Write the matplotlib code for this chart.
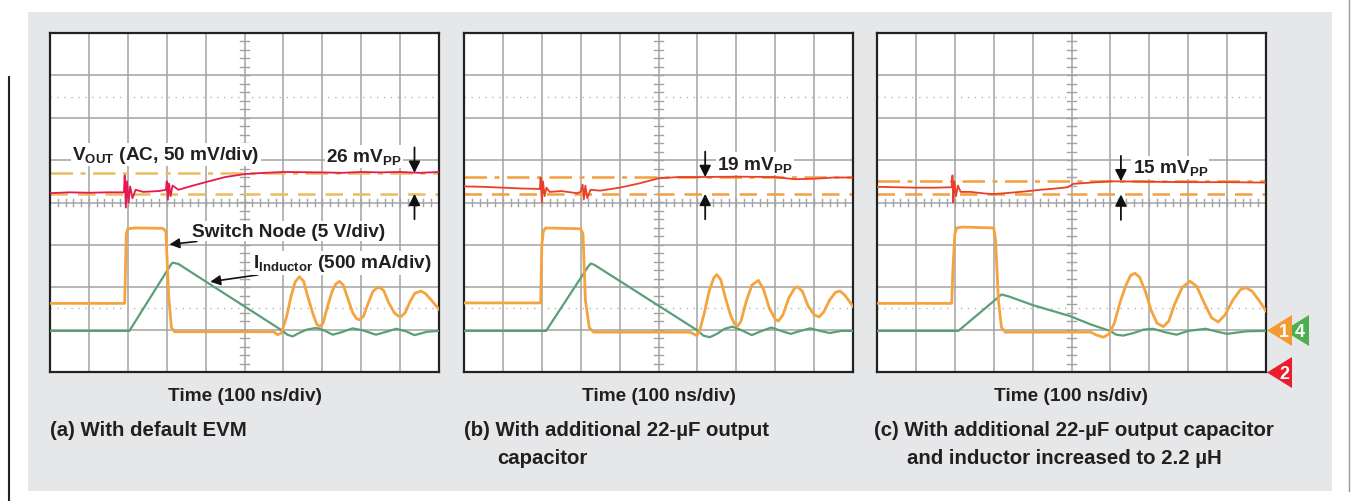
import matplotlib
matplotlib.use("Agg")
import matplotlib.pyplot as plt
import numpy as np
from matplotlib.patches import Rectangle, Polygon

plt.rcParams['font.family'] = ['Liberation Sans', 'DejaVu Sans']
plt.rcParams['mathtext.fontset'] = 'custom'
plt.rcParams['mathtext.bf'] = 'Liberation Sans:bold'
plt.rcParams['mathtext.rm'] = 'Liberation Sans'

# ---- trace data (x in divisions 0..10, y in divisions -4..4) ----
# panel (a)
vout_a_x = [0, 0.5, 1.0, 1.5, 1.9, 1.92, 1.95, 1.98, 2.02, 2.06, 2.12, 2.2, 2.4, 2.8, 2.98, 3.0, 3.03,
            3.06, 3.1, 3.15, 3.3, 3.6, 4.0, 4.5, 5.0, 5.5, 6.0, 7.0, 7.5, 8.0, 8.5, 9.0, 9.5, 10]
vout_a_y = [0.22, 0.24, 0.23, 0.24, 0.24, 0.64, -0.12, 0.5, 0.0, 0.38, 0.1, 0.3, 0.25, 0.27, 0.3, 0.5, 0.07,
            0.45, 0.15, 0.4, 0.3, 0.38, 0.48, 0.6, 0.67, 0.7, 0.72, 0.71, 0.70, 0.72, 0.71, 0.72, 0.70, 0.72]
sw_a_x = [0, 1.92, 1.96, 2.0, 2.2, 2.9, 2.98, 3.05, 3.12, 3.2, 5.75, 5.85, 5.95, 6.08, 6.2, 6.3, 6.41, 6.52,
          6.62, 6.75, 6.85, 6.93, 7.02, 7.12, 7.25, 7.35, 7.44, 7.54, 7.65, 7.78, 7.88, 7.96, 8.06, 8.17, 8.3,
          8.4, 8.47, 8.58, 8.7, 8.85, 8.95, 9.03, 9.13, 9.25, 9.38, 9.54, 9.65, 9.8, 10]
sw_a_y = [-2.38, -2.38, -0.75, -0.62, -0.60, -0.61, -0.68, -2.2, -2.95, -3.05, -3.05, -3.12, -3.08, -2.7,
          -2.2, -1.88, -1.75, -1.86, -2.2, -2.6, -2.86, -2.93, -2.85, -2.5, -2.1, -1.92, -1.86, -1.95, -2.25,
          -2.6, -2.74, -2.77, -2.68, -2.4, -2.1, -2.02, -2.0, -2.08, -2.35, -2.6, -2.68, -2.69, -2.6, -2.35,
          -2.14, -2.09, -2.15, -2.3, -2.52]
il_a_x = [0, 2.04, 3.12, 3.16, 3.3, 5.98, 6.1, 6.24, 6.4, 6.6, 6.84, 7.05, 7.27, 7.5, 7.78, 8.05, 8.38,
          8.65, 8.9, 9.15, 9.37, 9.7, 10]
il_a_y = [-3.03, -3.03, -1.45, -1.42, -1.45, -3.03, -3.12, -3.16, -3.08, -3.0, -2.96, -3.02, -3.12, -3.06,
          -2.97, -3.02, -3.12, -3.05, -2.98, -3.04, -3.13, -3.05, -3.03]

# panel (b)
vout_b_x = [0, 0.5, 1.0, 1.5, 1.95, 1.97, 2.0, 2.03, 2.07, 2.12, 2.2, 2.5, 2.9, 3.0, 3.05, 3.08, 3.12,
            3.17, 3.25, 3.5, 4.0, 4.5, 5.0, 5.5, 6.0, 7.0, 8.0, 8.5, 9.0, 9.5, 10]
vout_b_y = [0.38, 0.37, 0.35, 0.33, 0.32, 0.59, 0.0, 0.5, 0.15, 0.35, 0.25, 0.27, 0.22, 0.25, 0.42, 0.07,
            0.4, 0.1, 0.3, 0.28, 0.35, 0.45, 0.57, 0.6, 0.6, 0.61, 0.6, 0.55, 0.56, 0.59, 0.59]
sw_b_x = [0, 1.97, 2.0, 2.04, 2.1, 3.0, 3.06, 3.12, 3.22, 3.33, 5.8, 5.9, 5.98, 6.05, 6.18, 6.3, 6.42,
          6.5, 6.6, 6.72, 6.85, 6.95, 7.03, 7.12, 7.25, 7.4, 7.57, 7.7, 7.85, 8.0, 8.08, 8.2, 8.35, 8.5,
          8.58, 8.7, 8.85, 9.0, 9.13, 9.25, 9.4, 9.55, 9.67, 9.8, 10]
sw_b_y = [-2.37, -2.37, -1.0, -0.68, -0.6, -0.62, -0.75, -2.3, -2.95, -3.06, -3.06, -3.1, -3.14, -3.05,
          -2.6, -2.1, -1.78, -1.70, -1.82, -2.25, -2.65, -2.86, -2.92, -2.8, -2.35, -1.95, -1.84, -2.05,
          -2.5, -2.75, -2.80, -2.65, -2.25, -2.02, -1.99, -2.1, -2.45, -2.65, -2.70, -2.58, -2.3, -2.12,
          -2.09, -2.2, -2.45]
il_b_x = [0, 2.11, 3.2, 3.26, 3.35, 6.02, 6.15, 6.32, 6.5, 6.7, 6.9, 7.1, 7.4, 7.6, 7.9, 8.15, 8.4,
          8.65, 8.9, 9.15, 9.4, 9.7, 10]
il_b_y = [-3.03, -3.03, -1.5, -1.44, -1.47, -3.03, -3.14, -3.18, -3.1, -2.98, -2.93, -3.0, -3.13, -3.05,
          -2.95, -3.03, -3.1, -3.03, -2.97, -3.03, -3.08, -3.03, -3.03]

# panel (c)
vout_c_x = [0, 0.5, 1.0, 1.5, 1.92, 1.94, 1.96, 1.99, 2.03, 2.08, 2.15, 2.4, 2.8, 3.0, 3.3, 3.8, 4.2,
            4.6, 4.9, 5.05, 5.5, 6.0, 7.0, 8.0, 9.0, 10]
vout_c_y = [0.37, 0.36, 0.35, 0.35, 0.36, 0.64, 0.0, 0.5, 0.15, 0.4, 0.25, 0.25, 0.21, 0.2, 0.22, 0.26,
            0.3, 0.33, 0.36, 0.44, 0.47, 0.5, 0.49, 0.48, 0.48, 0.47]
sw_c_x = [0, 1.92, 1.95, 2.0, 2.05, 2.2, 3.0, 3.05, 3.12, 3.2, 3.3, 5.5, 5.62, 5.82, 5.97, 6.1, 6.25,
          6.4, 6.52, 6.63, 6.75, 6.9, 7.05, 7.2, 7.36, 7.5, 7.65, 7.85, 8.05, 8.22, 8.4, 8.6, 8.77, 8.95,
          9.15, 9.35, 9.49, 9.65, 9.85, 10]
sw_c_y = [-2.38, -2.38, -1.6, -0.75, -0.6, -0.58, -0.6, -0.9, -2.3, -2.95, -3.06, -3.06, -3.12, -3.18,
          -3.1, -2.85, -2.35, -1.95, -1.72, -1.67, -1.76, -2.1, -2.55, -2.85, -2.93, -2.8, -2.4, -2.0,
          -1.86, -1.98, -2.35, -2.72, -2.82, -2.65, -2.3, -2.05, -2.01, -2.1, -2.35, -2.56]
il_c_x = [0, 2.09, 3.1, 3.2, 3.4, 4.0, 4.96, 5.5, 5.99, 6.15, 6.33, 6.6, 6.85, 7.1, 7.4, 7.7, 8.0,
          8.45, 8.75, 9.0, 9.5, 10]
il_c_y = [-3.03, -3.03, -2.25, -2.17, -2.22, -2.42, -2.68, -2.88, -3.03, -3.12, -3.14, -3.08, -3.0,
          -2.98, -3.06, -3.12, -3.03, -2.98, -3.05, -3.1, -3.04, -3.03]

# peak-to-peak cursor levels, labels
pp_top = [0.70, 0.60, 0.50]
pp_bot = [0.205, 0.205, 0.19]
pp_text = ['26', '19', '15']
pp_arrow_x = [9.37, 6.2, 6.27]
pp_text_xy = [(7.1, 1.09), (6.5, 0.92), (6.57, 0.83)]

captions = [["(a) With default EVM"],
            ["(b) With additional 22-\u00b5F output", "capacitor"],
            ["(c) With additional 22-\u00b5F output capacitor", "and inductor increased to 2.2 \u00b5H"]]

W, H = 1351, 502
fig = plt.figure(figsize=(W / 100, H / 100), dpi=100)

# background layer in pixel coordinates
bg = fig.add_axes([0, 0, 1, 1])
bg.set_xlim(0, W)
bg.set_ylim(H, 0)
bg.axis('off')
bg.add_patch(Rectangle((28, 13), 1304, 479, facecolor='#e6e7e8', edgecolor='none'))
bg.plot([8.5, 8.5], [78, 502], color='#222222', lw=1.5)
bg.plot([1349, 1349], [0, 492], color='#9a9a9a', lw=1.0)

panel_left = [50, 464, 877]
top, bottom, pw = 34, 373, 389

vouts = [(vout_a_x, vout_a_y), (vout_b_x, vout_b_y), (vout_c_x, vout_c_y)]
sws = [(sw_a_x, sw_a_y), (sw_b_x, sw_b_y), (sw_c_x, sw_c_y)]
ils = [(il_a_x, il_a_y), (il_b_x, il_b_y), (il_c_x, il_c_y)]
red_col = ['#e6194f', '#e8402a', '#e8402a']
cur_col = ['#e8bd60', '#f3a03e', '#f3a03e']

orange = '#f4a43e'
green = '#5a9f77'
gridc = '#a3a3a3'
fs = 13.7
arrow_kw = dict(arrowstyle='-|>', color='#111111', lw=1.3, mutation_scale=17, shrinkA=0, shrinkB=0)

for i, left in enumerate(panel_left):
    ax = fig.add_axes([left / W, 1 - bottom / H, pw / W, (bottom - top) / H])
    ax.set_xlim(0, 10)
    ax.set_ylim(-4, 4)
    ax.set_xticks([])
    ax.set_yticks([])
    for s in ax.spines.values():
        s.set_color('#222222')
        s.set_linewidth(1.6)
    # graticule
    for gx in range(1, 10):
        ax.axvline(gx, color=gridc, lw=1.1, zorder=1)
    for gy in range(-3, 4):
        ax.axhline(gy, color=gridc, lw=1.1, zorder=1)
    for gy in (-2.5, 2.5):
        ax.axhline(gy, color='#b5b5b5', lw=1.0, ls=(0, (1, 4)), zorder=1)
    for t in np.arange(0.2, 10, 0.2):
        ax.plot([t, t], [-0.09, 0.09], color=gridc, lw=1.0, zorder=1)
    for t in np.arange(-3.8, 4, 0.2):
        ax.plot([4.88, 5.12], [t, t], color=gridc, lw=1.0, zorder=1)

    # cursors
    ax.axhline(pp_top[i], color=cur_col[i], lw=1.8, ls=(0, (9, 3, 2, 3)), zorder=2)
    ax.axhline(pp_bot[i], color=cur_col[i], lw=1.8, ls=(0, (7, 4)), zorder=2)

    # traces
    ax.plot(*ils[i], color=green, lw=1.6, zorder=3)
    ax.plot(*sws[i], color=orange, lw=2.0, zorder=4)
    ax.plot(*vouts[i], color=red_col[i], lw=1.3, zorder=5)

    # peak-to-peak arrows and label
    ax.annotate('', xy=(pp_arrow_x[i], pp_top[i]), xytext=(pp_arrow_x[i], pp_top[i] + 0.6),
                arrowprops=arrow_kw, zorder=6)
    ax.annotate('', xy=(pp_arrow_x[i], pp_bot[i]), xytext=(pp_arrow_x[i], pp_bot[i] - 0.6),
                arrowprops=arrow_kw, zorder=6)
    tx, ty = pp_text_xy[i]
    ax.text(tx, ty, pp_text[i] + r' mV$\mathbf{_{PP}}$', fontsize=fs, fontweight='bold',
            color='#231f20', ha='left', va='center', zorder=7,
            bbox=dict(facecolor='white', edgecolor='none', pad=1))

    if i == 0:
        ax.text(0.57, 1.13, r'V$\mathbf{_{OUT}}$ (AC, 50 mV/div)', fontsize=fs, fontweight='bold',
                color='#231f20', ha='left', va='center', zorder=7,
                bbox=dict(facecolor='white', edgecolor='none', pad=1))
        ax.annotate('Switch Node (5 V/div)', xy=(3.07, -0.99), xytext=(3.66, -0.68),
                    fontsize=fs, fontweight='bold', color='#231f20', ha='left', va='center', zorder=7,
                    bbox=dict(facecolor='white', edgecolor='none', pad=1),
                    arrowprops=dict(arrowstyle='-|>', color='#111111', lw=1.2, mutation_scale=15,
                                    shrinkA=2, shrinkB=0))
        ax.annotate(r'I$\mathbf{_{Inductor}}$ (500 mA/div)', xy=(4.12, -1.87), xytext=(5.23, -1.42),
                    fontsize=fs, fontweight='bold', color='#231f20', ha='left', va='center', zorder=7,
                    bbox=dict(facecolor='white', edgecolor='none', pad=1),
                    arrowprops=dict(arrowstyle='-|>', color='#111111', lw=1.2, mutation_scale=15,
                                    shrinkA=2, shrinkB=0))

    bg.text(left + pw / 2, 397, 'Time (100 ns/div)', fontsize=fs, fontweight='bold',
            color='#231f20', ha='center', va='center')

# captions
cap_x = [(50, 50), (464, 497), (874, 907)]
for i, lines in enumerate(captions):
    for j, line in enumerate(lines):
        bg.text(cap_x[i][j], 431 + 28 * j, line, fontsize=14.7, fontweight='bold',
                color='#231f20', ha='left', va='center')

# channel markers
bg.add_patch(Polygon([(1284, 331.5), (1309, 316), (1309, 347)], closed=True,
                     facecolor='#4caf50', edgecolor='none', zorder=5))
bg.add_patch(Polygon([(1267, 331.5), (1292, 316), (1292, 347)], closed=True,
                     facecolor='#f39a35', edgecolor='none', zorder=6))
bg.add_patch(Polygon([(1267, 373.5), (1292, 358), (1292, 389)], closed=True,
                     facecolor='#ec1c2e', edgecolor='none', zorder=6))
bg.text(1284, 333, '1', color='white', fontsize=13, fontweight='bold', ha='center', va='center', zorder=7)
bg.text(1300, 333, '4', color='white', fontsize=13, fontweight='bold', ha='center', va='center', zorder=7)
bg.text(1284, 375, '2', color='white', fontsize=13, fontweight='bold', ha='center', va='center', zorder=7)

fig.savefig('out.png', dpi=100)
